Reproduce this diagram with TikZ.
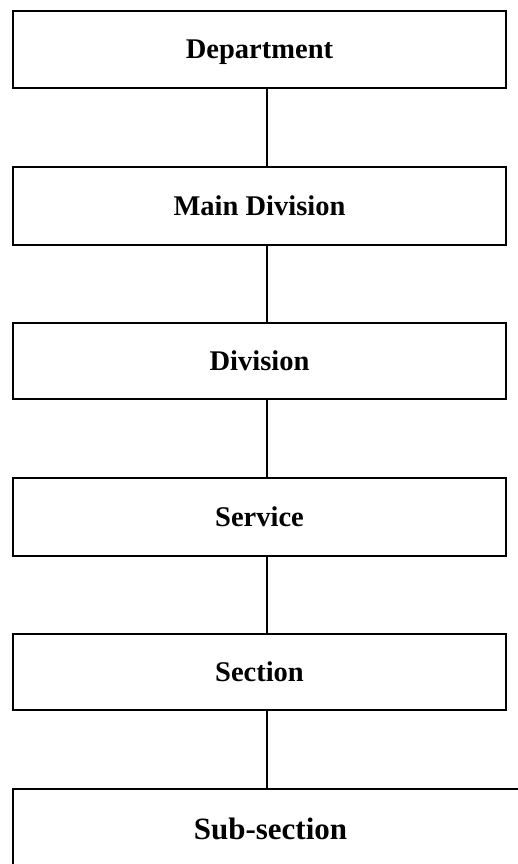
\documentclass[tikz,border=0pt]{standalone}
\usepackage{fontspec}
\setmainfont{Liberation Serif}
\begin{document}
\begin{tikzpicture}[x=1pt,y=-1pt,
  orgbox/.style={draw=black, line width=2.7pt, rectangle, inner sep=0pt,
    text height=19pt, text depth=0pt,
    font=\fontsize{28.5}{32}\selectfont\bfseries},
  link/.style={draw=black, line width=2pt}]
\useasboundingbox (0,0) rectangle (518,864);
\clip (0,0) rectangle (518,864);
\node[orgbox, minimum width=493pt, minimum height=77pt] (dep) at (259.5,49.5) {Department};
\node[orgbox, minimum width=493pt, minimum height=78pt] (mdiv) at (259.5,206) {Main Division};
\node[orgbox, minimum width=493pt, minimum height=76pt] (div) at (259.5,361) {Division};
\node[orgbox, minimum width=493pt, minimum height=78pt] (srv) at (259.5,517) {Service};
\node[orgbox, minimum width=493pt, minimum height=76pt] (sec) at (259.5,672) {Section};
\node[orgbox, minimum width=515pt, minimum height=81pt, text height=20.5pt, font=\fontsize{31}{34}\selectfont\bfseries] (sub) at (270.5,829.5) {Sub-section};
\coordinate (cx) at (267,0);
\draw[link] (dep.south -| cx) -- (mdiv.north -| cx);
\draw[link] (mdiv.south -| cx) -- (div.north -| cx);
\draw[link] (div.south -| cx) -- (srv.north -| cx);
\draw[link] (srv.south -| cx) -- (sec.north -| cx);
\draw[link] (sec.south -| cx) -- (sub.north -| cx);
\end{tikzpicture}
\end{document}
